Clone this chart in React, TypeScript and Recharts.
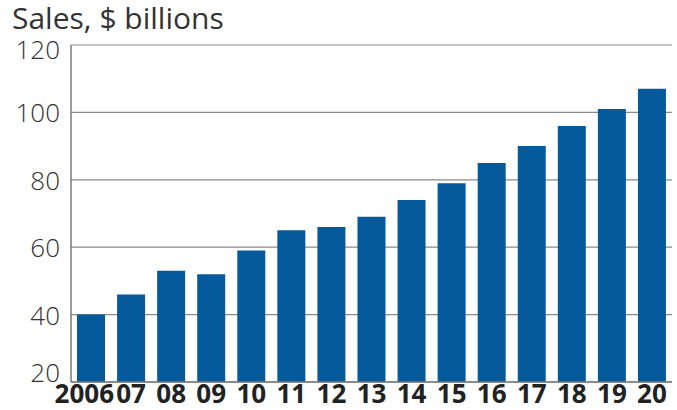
import { BarChart, Bar, XAxis, YAxis, CartesianGrid } from 'recharts';

const years = ['2006', '07', '08', '09', '10', '11', '12', '13', '14', '15', '16', '17', '18', '19', '20'];
const sales = [40, 46, 53, 52, 59, 65, 66, 69, 74, 79, 85, 90, 96, 101, 107];
const yTicks = [20, 40, 60, 80, 100, 120];

const data = years.map((year, i) => ({ year, sales: sales[i] }));

const FONT = '"Open Sans", "DejaVu Sans", sans-serif';

function YTick({ x, y, payload }: any) {
  // the end labels sit inside the box rather than centred on the line
  let shift = 0;
  if (payload.value === 20) shift = -10;
  if (payload.value === 120) shift = 4;
  return (
    <text
      x={x - 3}
      y={y + shift}
      textAnchor="end"
      dominantBaseline="central"
      fontFamily={FONT}
      fontWeight={300}
      fontSize={26}
      fill="#333"
    >
      {payload.value}
    </text>
  );
}

function XTick({ x, y, payload, index }: any) {
  const first = index === 0;
  return (
    <text
      x={first ? x + 23 : x}
      y={y + 13}
      textAnchor={first ? 'end' : 'middle'}
      fontFamily={FONT}
      fontWeight={700}
      fontSize={26}
      fill="#222"
    >
      {payload.value}
    </text>
  );
}

export default function App() {
  return (
    <div style={{ position: 'absolute', left: 0, top: 0, width: 677, height: 410, background: '#fff' }}>
      <div
        style={{
          position: 'absolute',
          left: 12,
          top: 2,
          fontFamily: FONT,
          fontSize: 30,
          lineHeight: '32px',
          color: '#333',
        }}
      >
        Sales, $ billions
      </div>
      <BarChart
        width={677}
        height={410}
        data={data}
        margin={{ top: 45, right: 5, left: 0, bottom: 0 }}
        barCategoryGap="15%"
      >
        <CartesianGrid yAxisId="left" vertical={false} stroke="#8a8a8a" strokeWidth={1.2} />
        <XAxis
          dataKey="year"
          height={28}
          axisLine={{ stroke: '#7a7a7a', strokeWidth: 1.5 }}
          tickLine={false}
          interval={0}
          tick={<XTick />}
        />
        <YAxis
          yAxisId="left"
          domain={[20, 120]}
          ticks={yTicks}
          width={71}
          axisLine={{ stroke: '#7a7a7a', strokeWidth: 1.5 }}
          tickLine={false}
          tick={<YTick />}
        />
        <YAxis
          yAxisId="right"
          orientation="right"
          domain={[20, 120]}
          width={0}
          tick={false}
          tickLine={false}
          axisLine={{ stroke: '#7a7a7a', strokeWidth: 1.5 }}
        />
        <Bar yAxisId="left" dataKey="sales" fill="#055a9c" isAnimationActive={false} />
      </BarChart>
    </div>
  );
}
